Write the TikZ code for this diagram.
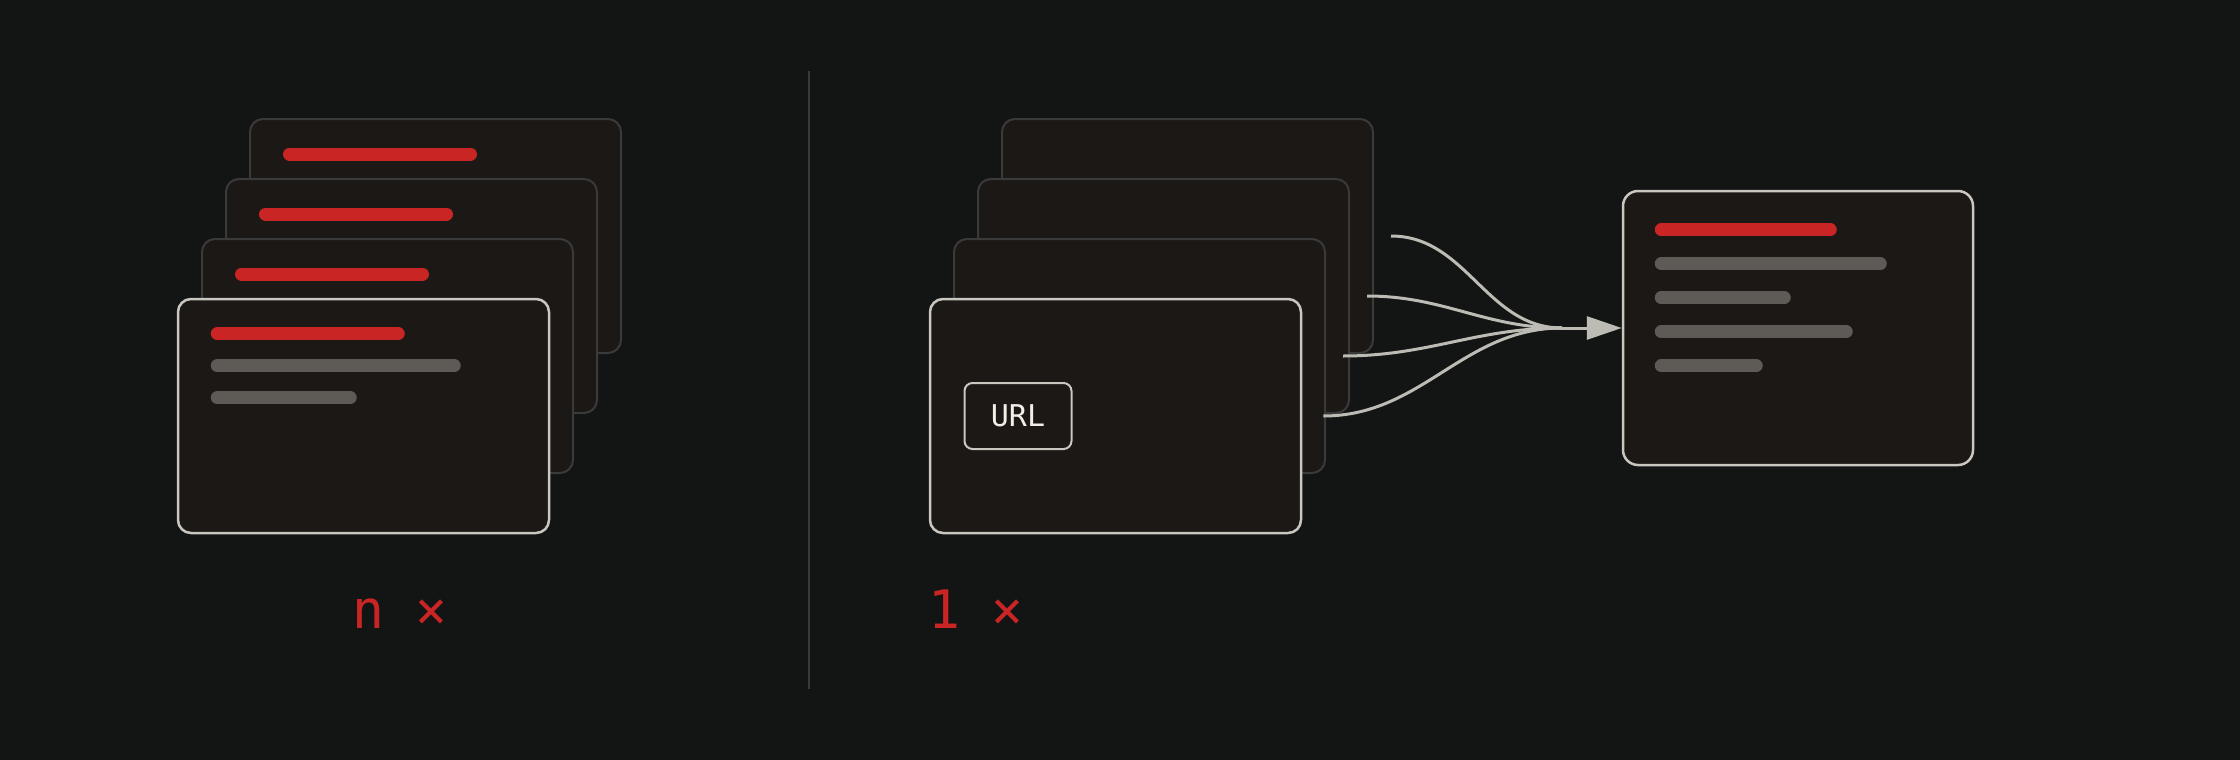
\documentclass[tikz,border=0pt]{standalone}
\usepackage{fontspec}
\setmonofont{DejaVu Sans Mono}
\usetikzlibrary{arrows.meta}
\definecolor{bg}{HTML}{131514}
\definecolor{cardfill}{HTML}{1B1815}
\definecolor{edgelight}{HTML}{C9C7BF}
\definecolor{edgedark}{HTML}{3A3A3A}
\definecolor{barred}{HTML}{C92524}
\definecolor{bargrey}{HTML}{5E5B57}
\definecolor{feedgrey}{HTML}{BDBCB4}
\definecolor{urltext}{HTML}{F2EFE8}
\tikzset{
  card/.style={draw=edgedark, fill=cardfill, line width=2pt, rounded corners=13pt,
    minimum width=371pt, minimum height=234pt, inner sep=0pt},
  topcard/.style={card, draw=edgelight, line width=2.5pt},
  redbar/.style={draw=barred, line width=13pt, line cap=round},
  greybar/.style={draw=bargrey, line width=13pt, line cap=round},
  feed/.style={draw=feedgrey, line width=3pt},
  count/.style={text=barred, font=\ttfamily\fontsize{53}{60}\selectfont, inner sep=0pt, anchor=base},
}
\begin{document}
\begin{tikzpicture}[x=1pt,y=-1pt]
\fill[bg] (0,0) rectangle (2240,760);
\useasboundingbox (0,0) rectangle (2240,760);
% left stack: n pages
\node[card] (l4) at (435.5,236){};
\draw[redbar] ([shift={(40.5,36)}]l4.north west) -- ++(181,0);
\node[card] (l3) at (411.5,296){};
\draw[redbar] ([shift={(40.5,36)}]l3.north west) -- ++(181,0);
\node[card] (l2) at (387.5,356){};
\draw[redbar] ([shift={(40.5,36)}]l2.north west) -- ++(181,0);
\node[topcard] (l1) at (363.5,416){};
\draw[redbar] ([shift={(40.5,36)}]l1.north west) -- ++(181,0);
\draw[greybar] ([shift={(40.5,68)}]l1.north west) -- ++(237,0);
\draw[greybar] ([shift={(40.5,100)}]l1.north west) -- ++(133,0);
\node[count] (ncount) at (400,628){n ×};
% divider
\draw[edgedark, line width=2pt] (809,71) -- (809,689);
% right stack: one url
\node[card] (r4) at (1187.5,236){};
\node[card] (r3) at (1163.5,296){};
\node[card] (r2) at (1139.5,356){};
\node[topcard] (r1) at (1115.5,416){};
\node[draw=edgelight, fill=cardfill, line width=2pt, rounded corners=8pt, minimum width=107pt,
  minimum height=66pt, inner sep=0pt, text=urltext, font=\ttfamily\fontsize{30}{34}\selectfont]
  (url) at (1018,416){URL};
\node[count] (onecount) at (976,628){1 ×};
% result page
\node[topcard, minimum width=350pt, minimum height=274pt, rounded corners=15pt] (out) at (1798,328){};
\draw[redbar] ([shift={(39.5,40)}]out.north west) -- ++(169,0);
\draw[greybar] ([shift={(39.5,74)}]out.north west) -- ++(219,0);
\draw[greybar] ([shift={(39.5,108)}]out.north west) -- ++(123,0);
\draw[greybar] ([shift={(39.5,142)}]out.north west) -- ++(185,0);
\draw[greybar] ([shift={(39.5,176)}]out.north west) -- ++(95,0);
% feeds
\coordinate (merge) at (1562,328);
\draw[feed] ([xshift=17pt]r4.east) to[out=0,in=180] (merge);
\draw[feed] ([xshift=17pt]r3.east) to[out=0,in=180] (merge);
\draw[feed] ([xshift=17pt]r2.east) to[out=0,in=180] (merge);
\draw[feed] ([xshift=21pt]r1.east) to[out=0,in=180] (merge);
\draw[feed, -{Triangle[length=35pt,width=23pt]}] (merge) -- (out.west);
\end{tikzpicture}
\end{document}
